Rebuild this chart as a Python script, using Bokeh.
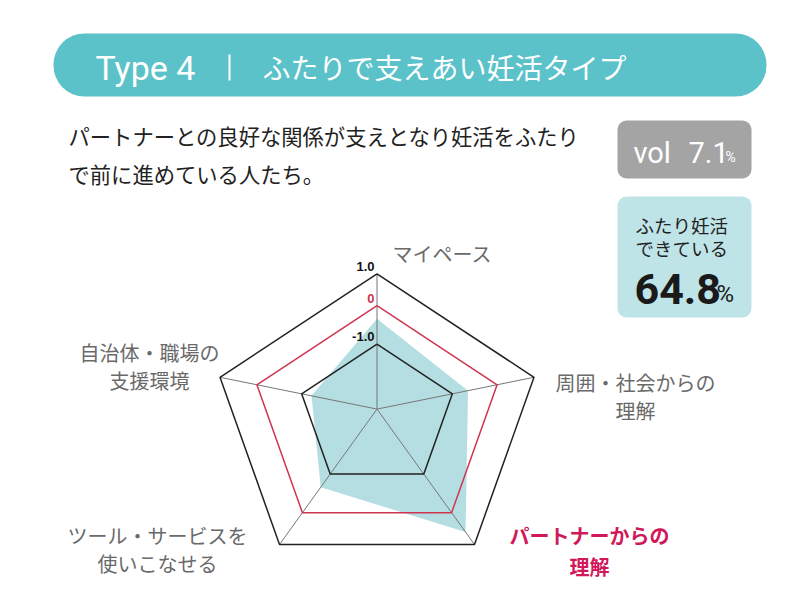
import numpy as np
from bokeh.plotting import figure
from bokeh.models import Range1d, BoxAnnotation
from bokeh.core.properties import value
from bokeh.embed import file_html
from bokeh.resources import INLINE

# ---------------- data ----------------
TYPE_LABEL = "Type 4"
TYPE_NAME = "ふたりで支えあい妊活タイプ"
DESC_LINES = ["パートナーとの良好な関係が支えとなり妊活をふたり", "で前に進めている人たち。"]
AXIS_LINES = [["マイペース"], ["周囲・社会からの", "理解"], ["パートナーからの", "理解"],
              ["ツール・サービスを", "使いこなせる"], ["自治体・職場の", "支援環境"]]
SCORES = [-0.34, -0.65, 0.61, -0.66, -1.22]
RING_VALUES = [-1.0, 0.0, 1.0]
RING_LABELS = ["-1.0", "0", "1.0"]
VOL_TEXT = "7.1"
TOGETHER_LINES = ["ふたり妊活", "できている"]
TOGETHER_TEXT = "64.8"

# ---------------- layout / style ----------------
W, H = 796, 586
CX, CY = 376.5, 408.6
SPOKES = np.array([[0.0, -135.3], [157.0, -31.8], [97.5, 135.4], [-97.5, 135.4], [-157.0, -31.8]])
RING_R = [0.48, 0.765, 1.0]
RING_COLORS = ["#222222", "#CF3550", "#222222"]
GRAY = "#6a6a6a"
CRIMSON = "#D0185A"
JP = value("Noto Sans CJK JP")
LAT = value("Roboto")

def radius(v):
    kv = [RING_VALUES[0] - RING_R[0] / (RING_R[1] - RING_R[0])] + RING_VALUES
    kr = [0.0] + RING_R
    v = np.asarray(v, float)
    return np.interp(v, kv, kr)

def poly(rs):
    rs = np.asarray(rs, float)
    return CX + rs * SPOKES[:, 0], CY + rs * SPOKES[:, 1]

p = figure(width=W, height=H, x_range=Range1d(0, W), y_range=Range1d(H, 0),
           output_backend="svg", toolbar_location=None, min_border=0)
p.axis.visible = False
p.grid.visible = False
p.outline_line_color = None

# boxes
p.add_layout(BoxAnnotation(left=53, right=766, top=33, bottom=96, fill_color="#5CC2CA", fill_alpha=1,
                           line_color=None, border_radius=31, level="underlay"))
p.add_layout(BoxAnnotation(left=617, right=751, top=120, bottom=178, fill_color="#A4A4A4", fill_alpha=1,
                           line_color=None, border_radius=9, level="underlay"))
p.add_layout(BoxAnnotation(left=617, right=751, top=196, bottom=317, fill_color="#BFE4E8", fill_alpha=1,
                           line_color=None, border_radius=9, level="underlay"))

# title
p.text(x=[95], y=[67], text=[TYPE_LABEL], text_font=LAT, text_font_size="34px", text_color="white",
       text_baseline="middle", text_align="left")
p.segment(x0=[229], y0=[54], x1=[229], y1=[80], line_color="white", line_width=2)
p.text(x=[262], y=[66], text=[TYPE_NAME], text_font=JP, text_font_size="28px", text_color="white",
       text_baseline="middle", text_align="left")

# description
p.text(x=[68, 68], y=[135, 173], text=DESC_LINES, text_font=JP, text_font_size="21.3px",
       text_color="#222222", text_baseline="middle", text_align="left")

# vol box
p.text(x=[633], y=[152], text=["vol"], text_font=LAT, text_font_size="29px", text_color="white",
       text_baseline="middle", text_align="left")
p.text(x=[688], y=[152], text=[VOL_TEXT], text_font=LAT, text_font_size="29px", text_color="white",
       text_baseline="middle", text_align="left")
p.text(x=[725], y=[156], text=["%"], text_font=LAT, text_font_size="14px", text_color="white",
       text_baseline="middle", text_align="left")

# together box
p.text(x=[635, 635], y=[224, 247], text=TOGETHER_LINES, text_font=JP, text_font_size="18.5px",
       text_color="#222222", text_baseline="middle", text_align="left")
p.text(x=[634], y=[288], text=[TOGETHER_TEXT], text_font=LAT, text_font_size="43px", text_color="#1a1a1a",
       text_font_style="bold", text_baseline="middle", text_align="left")
p.text(x=[716], y=[293], text=["%"], text_font=LAT, text_font_size="24px", text_color="#1a1a1a",
       text_baseline="middle", text_align="left")

# radar fill
fx, fy = poly(radius(SCORES))
p.patch(x=list(fx), y=list(fy), fill_color="#B5DEE2", fill_alpha=1, line_color=None)

# spokes
p.segment(x0=[CX] * 5, y0=[CY] * 5, x1=list(CX + SPOKES[:, 0]), y1=list(CY + SPOKES[:, 1]),
          line_color="#777777", line_width=1)

# rings
for v, c in zip(RING_VALUES, RING_COLORS):
    rx, ry = poly([radius(v)] * 5)
    p.line(x=list(rx) + [rx[0]], y=list(ry) + [ry[0]], line_color=c, line_width=1.5)

# ring labels
for v, lab, c in zip(RING_VALUES, RING_LABELS, ["#111111", "#CF3550", "#111111"]):
    ty = CY + radius(v) * SPOKES[0, 1] - 7.5
    p.text(x=[CX - 2.5], y=[ty], text=[lab], text_font=value("Liberation Sans"), text_font_size="13px",
           text_font_style="bold", text_color=c, text_baseline="middle", text_align="right")

# axis labels
LABEL_POS = [[(442, 253)], [(635, 382), (635, 410)], [(589, 535), (589, 566)],
             [(157, 535), (157, 563)], [(149, 352), (149, 380)]]
for i, (lines, pos) in enumerate(zip(AXIS_LINES, LABEL_POS)):
    col = CRIMSON if i == 2 else GRAY
    style = "bold" if i == 2 else "normal"
    p.text(x=[q[0] for q in pos], y=[q[1] for q in pos], text=lines, text_font=JP,
           text_font_size="20px", text_color=col, text_font_style=style,
           text_baseline="middle", text_align="center")

open("out.html", "w").write(file_html(p, INLINE))
